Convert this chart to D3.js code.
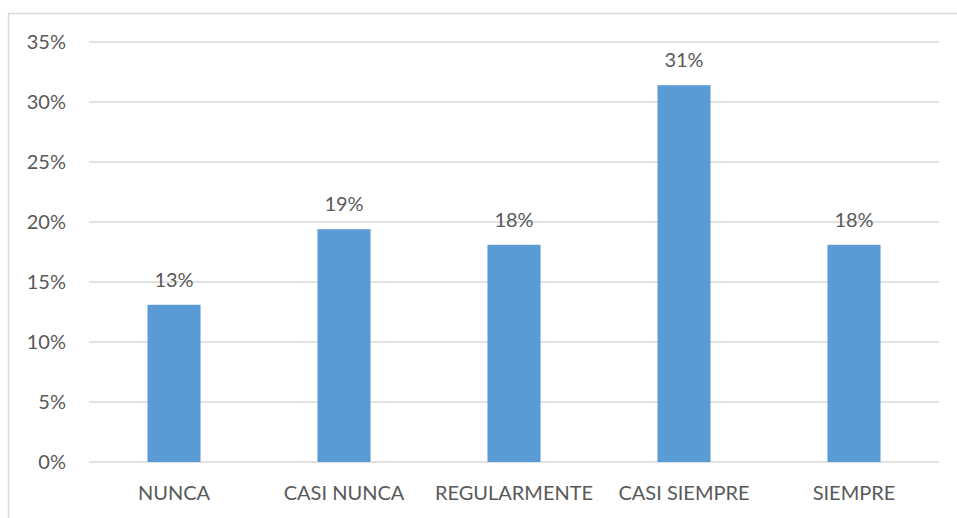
<!DOCTYPE html>
<html>
<head>
<meta charset="utf-8">
<script src="https://cdn.jsdelivr.net/npm/d3@7"></script>
<style>
  body { margin: 0; background: #fff; }
  svg text { font-family: Lato, "Open Sans", sans-serif; fill: #595959; }
</style>
</head>
<body>
<svg id="chart" width="957" height="518"></svg>
<script>
// Data
const categories = ["NUNCA", "CASI NUNCA", "REGULARMENTE", "CASI SIEMPRE", "SIEMPRE"];
const values = [13.1, 19.4, 18.1, 31.4, 18.1];
const valueLabels = ["13%", "19%", "18%", "31%", "18%"];
const yTicks = [0, 5, 10, 15, 20, 25, 30, 35];

const svg = d3.select("#chart");

// outer frame (top and left edges visible)
svg.append("path")
  .attr("d", "M 8.5,518 L 8.5,13.5 L 957,13.5")
  .attr("stroke", "#d9d9d9")
  .attr("stroke-width", 1.5)
  .attr("fill", "none");

const x = d3.scaleBand()
  .domain(categories)
  .range([89, 939])
  .paddingInner(0.688)
  .paddingOuter(0.344);

const y = d3.scaleLinear()
  .domain([0, 35])
  .range([462, 42]);

// gridlines
svg.append("g")
  .selectAll("line")
  .data(yTicks)
  .join("line")
  .attr("x1", 89)
  .attr("x2", 939)
  .attr("y1", d => y(d))
  .attr("y2", d => y(d))
  .attr("stroke", "#d9d9d9")
  .attr("stroke-width", 1.5);

// y tick labels
svg.append("g")
  .selectAll("text")
  .data(yTicks)
  .join("text")
  .attr("x", 66)
  .attr("y", d => y(d))
  .attr("dy", "0.35em")
  .attr("text-anchor", "end")
  .attr("font-size", 20)
  .text(d => d + "%");

// bars
svg.append("g")
  .selectAll("rect")
  .data(values)
  .join("rect")
  .attr("x", (d, i) => x(categories[i]))
  .attr("width", x.bandwidth())
  .attr("y", d => y(d))
  .attr("height", d => y(0) - y(d))
  .attr("fill", "#5b9bd5");

// value labels
svg.append("g")
  .selectAll("text")
  .data(values)
  .join("text")
  .attr("x", (d, i) => x(categories[i]) + x.bandwidth() / 2)
  .attr("y", d => y(d) - 25)
  .attr("dy", "0.35em")
  .attr("text-anchor", "middle")
  .attr("font-size", 20)
  .text((d, i) => valueLabels[i]);

// category labels
svg.append("g")
  .selectAll("text")
  .data(categories)
  .join("text")
  .attr("x", d => x(d) + x.bandwidth() / 2)
  .attr("y", 493)
  .attr("dy", "0.35em")
  .attr("text-anchor", "middle")
  .attr("font-size", 20)
  .text(d => d);
</script>
</body>
</html>
